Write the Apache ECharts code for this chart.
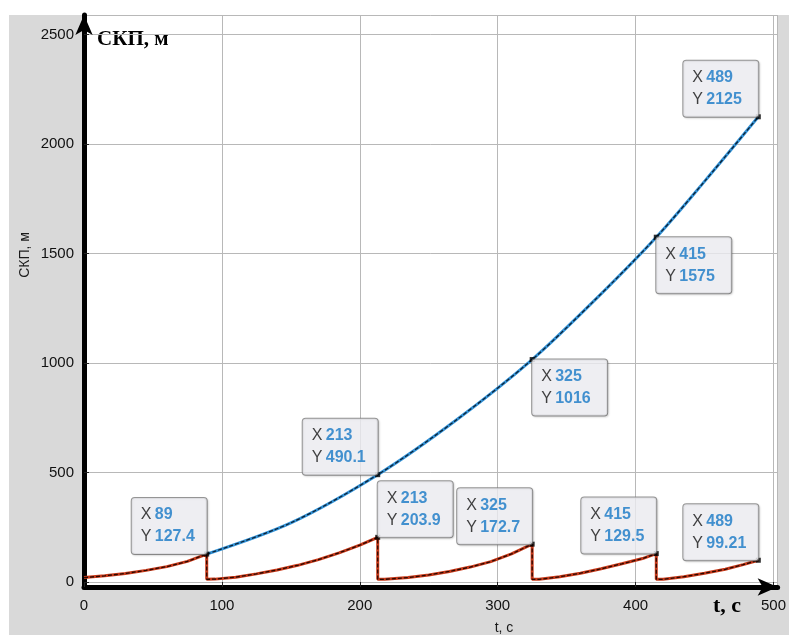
<!DOCTYPE html>
<html>
<head>
<meta charset="utf-8">
<script src="https://cdn.jsdelivr.net/npm/echarts@6/dist/echarts.min.js"></script>
<style>
  body { margin: 0; background: #fff; }
  #panel { position: absolute; left: 9px; top: 15px; right: 0; bottom: 0; background: #d9d9d9; }
  #main { position: absolute; left: 0; top: 0; width: 789px; height: 635px; }
</style>
</head>
<body>
<div id="panel"></div>
<div id="main"></div>
<script>
// blue curve - СКП without correction
var blueT = [89, 150, 213, 270, 325, 370, 415, 450, 489];
var blueY = [127.4, 270, 490.1, 740, 1016, 1285, 1575, 1830, 2125];

// red sawtooth - СКП with correction
var redT = [0, 15, 30, 45, 60, 75, 89,
    89, 95, 110, 125, 140, 155, 170, 185, 200, 213,
    213, 218, 235, 250, 265, 280, 295, 310, 325,
    325, 330, 345, 360, 375, 390, 405, 415,
    415, 420, 435, 450, 465, 478, 489];
var redY = [20, 28, 39, 53, 70, 94, 127.4,
    12, 13, 22, 37, 55, 76, 102, 133, 168, 203.9,
    12, 12, 20, 32, 48, 68, 93, 128, 172.7,
    12, 12, 24, 40, 60, 83, 107, 129.5,
    12, 12, 24, 40, 58, 79, 99.21];

// data tips
var tipT = [89, 213, 213, 325, 325, 415, 415, 489, 489];
var tipY = [127.4, 490.1, 203.9, 1016, 172.7, 1575, 129.5, 2125, 99.21];

var xTicks = ['0', '100', '200', '300', '400', '500'];
var yTicks = ['0', '500', '1000', '1500', '2000', '2500'];

// which corner of the tip box sits on the point
var tipCorner = ['br', 'br', 'bl', 'tl', 'br', 'tl', 'br', 'br', 'br'];

// tip box geometry
var boxW = 56, boxH = 44, boxPad = [6, 10, 6, 9];
var outerW = boxW + boxPad[1] + boxPad[3];
var outerH = boxH + boxPad[0] + boxPad[2];
var cornerOffset = {
    br: [-outerW, -outerH],
    bl: [0, -outerH],
    tl: [0, 0]
};

function zip(a, b) {
    var res = [];
    for (var i = 0; i < a.length; i++) res.push([a[i], b[i]]);
    return res;
}

var myChart = echarts.init(document.getElementById('main'), null, { renderer: 'canvas' });

var tipData = [];
for (var i = 0; i < tipT.length; i++) {
    tipData.push({
        value: [tipT[i], tipY[i]],
        label: { offset: cornerOffset[tipCorner[i]] }
    });
}

var sans = 'Liberation Sans, Arial, sans-serif';

var option = {
    backgroundColor: 'transparent',
    animation: false,
    grid: {
        left: 84,
        top: 15,
        right: 0,
        bottom: 48,
        show: true,
        backgroundColor: '#fff',
        borderWidth: 0
    },
    xAxis: {
        type: 'value',
        min: 0,
        max: 503,
        interval: 100,
        axisLine: {
            onZero: false,
            symbol: ['none', 'arrow'],
            symbolSize: [13, 20],
            lineStyle: { color: '#000', width: 5 }
        },
        axisTick: { inside: true, length: 5, lineStyle: { color: '#222' } },
        axisLabel: {
            showMaxLabel: false,
            color: '#111',
            fontSize: 15,
            fontFamily: sans,
            margin: 11,
            formatter: function (v) {
                return xTicks.indexOf(String(v)) >= 0 ? String(v) : '';
            }
        },
        splitLine: { lineStyle: { color: '#b8b8b8', width: 1 } }
    },
    yAxis: {
        type: 'value',
        min: -23,
        max: 2590,
        splitNumber: 5,
        axisLine: {
            symbol: ['none', 'arrow'],
            symbolSize: [13, 20],
            lineStyle: { color: '#000', width: 5 }
        },
        axisTick: { inside: true, length: 5, lineStyle: { color: '#222' } },
        axisLabel: {
            showMinLabel: false,
            showMaxLabel: false,
            color: '#111',
            fontSize: 15,
            fontFamily: sans,
            margin: 10,
            formatter: function (v) {
                return yTicks.indexOf(String(v)) >= 0 ? String(v) : '';
            }
        },
        splitLine: { lineStyle: { color: '#b8b8b8', width: 1 } }
    },
    graphic: [
        {
            type: 'text', x: 97, y: 40,
            style: { text: 'СКП, м', font: 'bold 21px "Liberation Serif", "DejaVu Serif", serif', fill: '#000', textVerticalAlign: 'middle' }
        },
        {
            type: 'text', x: 713, y: 606,
            style: { text: 't, с', font: 'bold 22px "Liberation Serif", "DejaVu Serif", serif', fill: '#000', textVerticalAlign: 'middle' }
        },
        {
            type: 'text', x: 25, y: 255, rotation: Math.PI / 2,
            style: { text: 'СКП, м', font: '14px "Liberation Sans", Arial, sans-serif', fill: '#1a1a1a', textAlign: 'center', textVerticalAlign: 'middle' }
        },
        {
            type: 'text', x: 504, y: 628,
            style: { text: 't, с', font: '14px "Liberation Sans", Arial, sans-serif', fill: '#1a1a1a', textAlign: 'center', textVerticalAlign: 'middle' }
        }
    ],
    series: [
        {
            type: 'line',
            data: zip(blueT, blueY),
            smooth: 0.3,
            showSymbol: false,
            lineStyle: { color: '#3393d8', width: 3 }
        },
        {
            type: 'line',
            data: zip(blueT, blueY),
            smooth: 0.3,
            showSymbol: false,
            lineStyle: { color: '#0c2236', width: 1.3, type: [4, 2] }
        },
        {
            type: 'line',
            data: zip(redT, redY),
            showSymbol: false,
            lineStyle: { color: '#c83a1a', width: 3 }
        },
        {
            type: 'line',
            data: zip(redT, redY),
            showSymbol: false,
            lineStyle: { color: '#2a0800', width: 1.3, type: [4, 2] }
        },
        {
            type: 'scatter',
            data: tipData,
            symbol: 'rect',
            symbolSize: 5,
            itemStyle: { color: '#000' },
            z: 10,
            label: {
                show: true,
                position: 'inside',
                align: 'left',
                verticalAlign: 'top',
                width: boxW,
                height: boxH,
                formatter: function (p) {
                    return '{k|X} {v|' + p.value[0] + '}\n{k|Y} {v|' + p.value[1] + '}';
                },
                backgroundColor: '#f1f1f6',
                borderColor: '#7d7d7d',
                borderWidth: 1,
                borderRadius: 3,
                padding: boxPad,
                shadowColor: 'rgba(0,0,0,0.15)',
                shadowBlur: 2,
                shadowOffsetX: 1,
                shadowOffsetY: 1,
                rich: {
                    k: { fontSize: 16, color: '#111', fontFamily: sans, lineHeight: 22 },
                    v: { fontSize: 16, color: '#1778c6', fontWeight: 'bold', fontFamily: sans, lineHeight: 22 }
                }
            }
        }
    ]
};
myChart.setOption(option);
</script>
</body>
</html>
